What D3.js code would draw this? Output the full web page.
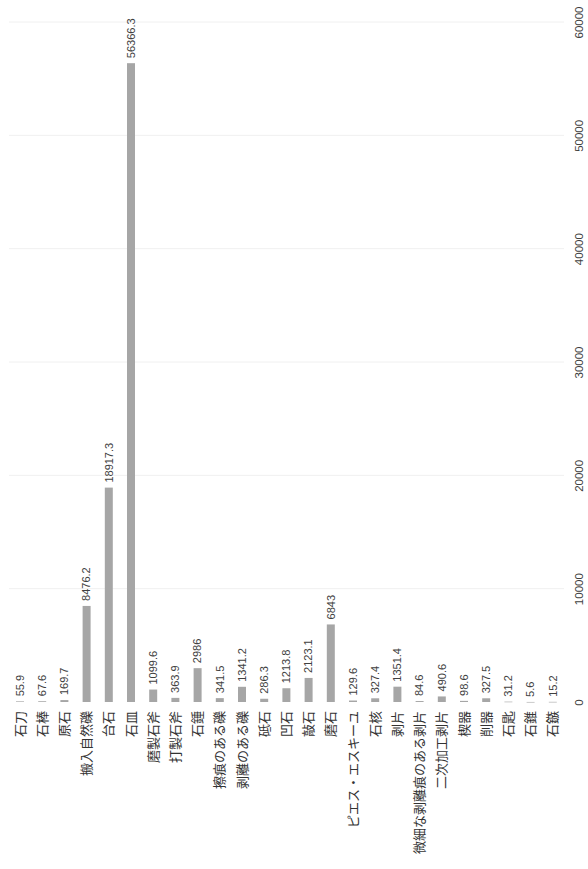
<!DOCTYPE html>
<html>
<head>
<meta charset="utf-8">
<script src="https://cdn.jsdelivr.net/npm/d3@7"></script>
<style>
  html, body { margin: 0; padding: 0; background: #fff; }
  svg { display: block; }
</style>
</head>
<body>
<div id="chart"></div>
<script>
const categories = ["石刀","石棒","原石","搬入自然礫","台石","石皿","磨製石斧","打製石斧","石錘","擦痕のある礫","剥離のある礫","砥石","凹石","敲石","磨石","ピエス・エスキーユ","石核","剥片","微細な剥離痕のある剥片","二次加工剥片","楔器","削器","石匙","石錐","石鏃"];
const values = [55.9,67.6,169.7,8476.2,18917.3,56366.3,1099.6,363.9,2986,341.5,1341.2,286.3,1213.8,2123.1,6843,129.6,327.4,1351.4,84.6,490.6,98.6,327.5,31.2,5.6,15.2];
const valueLabels = ["55.9","67.6","169.7","8476.2","18917.3","56366.3","1099.6","363.9","2986","341.5","1341.2","286.3","1213.8","2123.1","6843","129.6","327.4","1351.4","84.6","490.6","98.6","327.5","31.2","5.6","15.2"];
const tickValues = [0,10000,20000,30000,40000,50000,60000];

const W = 588, H = 869;
const svg = d3.select("#chart").append("svg").attr("width", W).attr("height", H);

// The chart is a horizontal bar chart rotated 90° counter-clockwise.
const x = d3.scaleBand().domain(categories).range([8.9, 563.9]).paddingInner(0.64).paddingOuter(0.32);
const y = d3.scaleLinear().domain([0, 60000]).range([702, 22]);

// faint gridlines
svg.append("g").selectAll("line").data(tickValues.slice(1)).join("line")
  .attr("x1", 9).attr("x2", 564)
  .attr("y1", d => y(d)).attr("y2", d => y(d))
  .attr("stroke", "#f0f0f0").attr("stroke-width", 1);

// bars
svg.append("g").selectAll("rect").data(values).join("rect")
  .attr("x", (d, i) => x(categories[i]))
  .attr("width", x.bandwidth())
  .attr("y", d => y(d))
  .attr("height", d => Math.max(0.6, y(0) - y(d)))
  .attr("fill", "#a6a6a6");

// value labels
svg.append("g").selectAll("text").data(values).join("text")
  .attr("transform", (d, i) => `translate(${x(categories[i]) + x.bandwidth() / 2},${y(d) - 5}) rotate(-90)`)
  .attr("dy", "0.35em")
  .attr("text-anchor", "start")
  .attr("font-family", "'Liberation Sans', Arial, sans-serif")
  .attr("font-size", 11)
  .attr("fill", "#404040")
  .text((d, i) => valueLabels[i]);

// category labels
svg.append("g").selectAll("text").data(categories).join("text")
  .attr("transform", d => `translate(${x(d) + x.bandwidth() / 2},711) rotate(-90)`)
  .attr("dy", "0.36em")
  .attr("text-anchor", "end")
  .attr("font-family", "'Noto Sans CJK JP', sans-serif")
  .attr("font-size", 13)
  .attr("fill", "#333")
  .text(d => d);

// value axis (on the right, rotated labels)
const axis = svg.append("g").attr("transform", "translate(579,0)")
  .call(d3.axisRight(y).tickValues(tickValues).tickSize(0).tickPadding(0).tickFormat(d3.format("d")));
axis.select(".domain").remove();
axis.selectAll("text")
  .attr("x", 0).attr("dy", "0.35em")
  .attr("transform", function () {
    const t = d3.select(this.parentNode).attr("transform");
    return "rotate(-90)";
  })
  .attr("text-anchor", "middle")
  .attr("font-family", "'Liberation Sans', Arial, sans-serif")
  .attr("font-size", 11.5)
  .attr("fill", "#404040");
</script>
</body>
</html>
